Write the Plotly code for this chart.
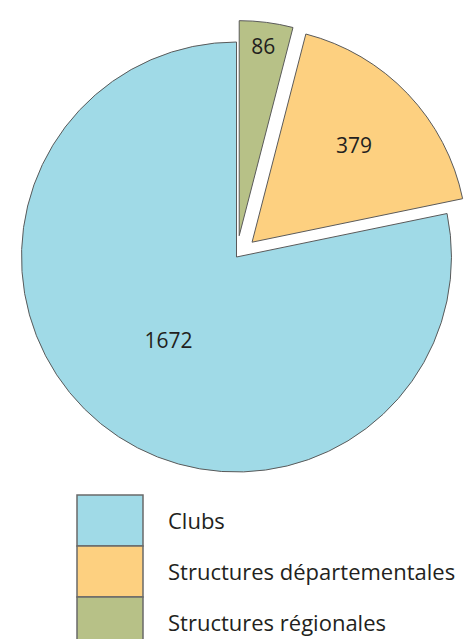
import plotly.graph_objects as go

categories = ["Clubs", "Structures départementales", "Structures régionales"]
values = [1672, 379, 86]
colors = ["#A0DAE7", "#FDD080", "#B7C187"]
pulls = [0, 0.1, 0.1]

W, H = 473, 639

# slices drawn clockwise from 12 o'clock: régionales, départementales, clubs
order = [2, 1, 0]
fig = go.Figure(go.Pie(
    labels=[categories[i] for i in order],
    values=[values[i] for i in order],
    marker=dict(colors=[colors[i] for i in order], line=dict(color="#5a5a5a", width=1)),
    pull=[pulls[i] for i in order],
    sort=False,
    direction="clockwise",
    rotation=0,
    textinfo="value",
    textposition="inside",
    insidetextorientation="horizontal",
    textfont=dict(family="Open Sans", size=21, color="#231f20"),
    showlegend=False,
    hoverinfo="label+value",
    domain=dict(x=[0, 1], y=[1 - 514 / H, 1]),
))

shapes = []
annotations = []
top = 495
h = 51
for i, (cat, col) in enumerate(zip(categories, colors)):
    y0 = top + i * h
    y1 = y0 + h
    shapes.append(dict(type="rect", xref="paper", yref="paper",
                       x0=77 / W, x1=143 / W, y0=1 - y1 / H, y1=1 - y0 / H,
                       fillcolor=col, line=dict(color="#6a6a6a", width=1.5)))
    annotations.append(dict(xref="paper", yref="paper", x=166 / W, y=1 - (y0 + h / 2 - 1) / H,
                            text=cat, showarrow=False, xanchor="left", yanchor="middle",
                            font=dict(family="Open Sans", size=22, color="#231f20")))

fig.update_layout(
    width=W, height=H,
    margin=dict(l=0, r=0, t=0, b=0),
    paper_bgcolor="white",
    plot_bgcolor="white",
    shapes=shapes,
    annotations=annotations,
)

fig.write_html("out.html", config={"displayModeBar": False},
               post_script="document.body.style.margin='0';document.body.style.overflow='hidden';")
